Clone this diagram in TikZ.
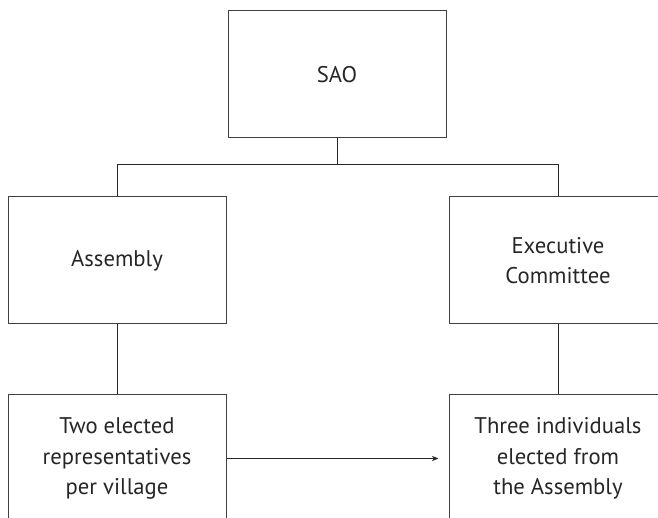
\documentclass[tikz,border=0pt]{standalone}
\usepackage{fontspec}
\setmainfont{PT Sans}
\usetikzlibrary{arrows.meta}
\tikzset{fin/.style={line width=0.75pt, black!85},
	orgbox/.style={draw=black!75, line width=0.75pt, minimum width=163.5pt, minimum height=95.25pt,
	align=center, font=\fontsize{17}{23}\selectfont, text=black!85}}

\begin{document}
\begin{tikzpicture}[x=0.75pt, y=0.75pt]
	\useasboundingbox (0,0) rectangle (658,518);
	\clip (0,0) rectangle (658,518);
%Boxes
	\node[orgbox] (sao) at (337,443.5) {SAO};
	\node[orgbox] (assembly) at (117,257.5) {Assembly};
	\node[orgbox] (exec) at (558,257.5) {Executive\\Committee};
	\node[orgbox] (reps) at (117,59.5) {Two elected\\representatives\\per village};
	\node[orgbox] (three) at (558,59.5) {Three individuals\\elected from\\the Assembly};
%Links
	\draw[fin] (sao.south) --++ (0,-26) coordinate (split);
	\draw[fin] (assembly.north) |- (split) -| (exec.north);
	\draw[fin] (assembly.south) -- (reps.north);
	\draw[fin] (exec.south) -- (three.north);
	\draw[fin, -{Stealth[length=5pt,width=4pt]}, shorten >=7.5pt] (reps.east) -- (three.west);
\end{tikzpicture}
\end{document}
